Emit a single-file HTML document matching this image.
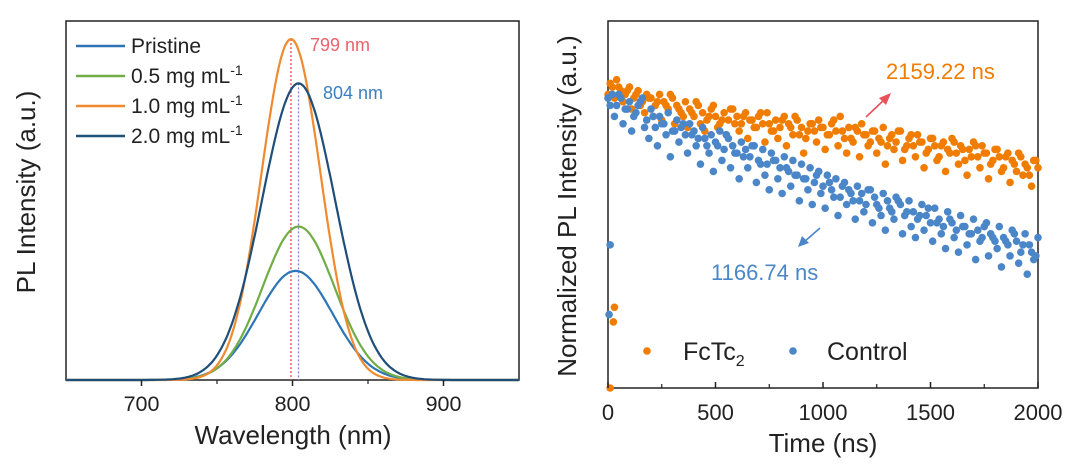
<!DOCTYPE html>
<html><head><meta charset="utf-8"><style>
html,body{margin:0;padding:0;background:#fff;}
svg{display:block;font-family:"Liberation Sans",Arial,sans-serif;}
</style></head><body>
<svg id="fig" width="1080" height="470" viewBox="0 0 1080 470">
<g id="left"></g>
<g id="right"></g>
</svg>
<script>
// ---- Left chart data (Gaussian peak parameters) ----
const specNames = ["Pristine", "0.5 mg mL", "1.0 mg mL", "2.0 mg mL"];
const specCenters = [802, 804, 799, 804];
const specHeights = [0.32, 0.45, 1.0, 0.87];
const specFwhm = [58, 56, 46, 57];
const specColors = ["#2e75b6", "#70ad47", "#f08a30", "#1f4e79"];
const wlTicks = [700, 800, 900];
const wlMinorTicks = [750, 850];
const peakMarks = [799, 804];

// ---- Right chart data ----
const timeStep = 20;
const fcValues = [0.80,0.82,0.84,0.81,0.80,0.82,0.79,0.81,0.78,0.80,
0.79,0.77,0.80,0.78,0.76,0.79,0.77,0.75,0.78,0.76,
0.74,0.77,0.75,0.73,0.76,0.74,0.72,0.75,0.73,0.76,
0.74,0.72,0.75,0.73,0.71,0.74,0.72,0.75,0.70,0.73,
0.71,0.74,0.72,0.69,0.73,0.71,0.68,0.72,0.70,0.73,
0.71,0.69,0.72,0.70,0.74,0.68,0.71,0.67,0.70,0.72,
0.69,0.67,0.70,0.68,0.71,0.66,0.69,0.67,0.70,0.65,
0.68,0.66,0.69,0.67,0.64,0.68,0.66,0.63,0.67,0.65,
0.68,0.64,0.66,0.62,0.65,0.67,0.63,0.66,0.64,0.61,
0.65,0.63,0.60,0.64,0.62,0.59,0.63,0.61,0.58,0.62,0.60];
const fcValuesB = [0.83,0.79,0.82,0.78,0.81,0.76,0.80,0.77,0.75,0.79,
0.74,0.78,0.73,0.77,0.80,0.72,0.76,0.74,0.71,0.75,
0.78,0.72,0.70,0.74,0.77,0.71,0.73,0.69,0.76,0.72,
0.70,0.74,0.68,0.73,0.71,0.75,0.67,0.72,0.70,0.68,
0.73,0.66,0.71,0.74,0.69,0.64,0.70,0.72,0.67,0.71,
0.65,0.69,0.73,0.66,0.70,0.64,0.68,0.71,0.63,0.69,
0.66,0.70,0.64,0.67,0.61,0.68,0.65,0.70,0.62,0.66,
0.69,0.63,0.67,0.60,0.65,0.68,0.62,0.66,0.59,0.64,
0.67,0.61,0.65,0.58,0.63,0.66,0.60,0.64,0.57,0.62,
0.65,0.59,0.63,0.56,0.61,0.64,0.58,0.60,0.55,0.62];
const ctrlValues = [0.79,0.80,0.77,0.79,0.76,0.78,0.74,0.77,0.79,0.73,
0.76,0.71,0.74,0.72,0.75,0.70,0.73,0.71,0.69,0.72,
0.70,0.68,0.71,0.66,0.69,0.67,0.70,0.65,0.68,0.66,
0.64,0.67,0.65,0.63,0.66,0.62,0.65,0.61,0.64,0.62,
0.60,0.63,0.59,0.62,0.58,0.61,0.57,0.60,0.56,0.59,
0.55,0.58,0.54,0.57,0.52,0.56,0.54,0.51,0.55,0.53,
0.50,0.54,0.52,0.49,0.53,0.51,0.48,0.52,0.50,0.47,
0.51,0.48,0.46,0.50,0.47,0.45,0.49,0.46,0.44,0.48,
0.45,0.43,0.47,0.44,0.42,0.46,0.43,0.41,0.45,0.42,
0.40,0.44,0.41,0.39,0.43,0.40,0.37,0.42,0.39,0.35,0.41];
const ctrlValuesB = [0.77,0.74,0.80,0.72,0.76,0.70,0.75,0.78,0.71,0.68,
0.74,0.66,0.72,0.69,0.63,0.70,0.67,0.72,0.64,0.69,
0.66,0.61,0.68,0.64,0.59,0.66,0.62,0.69,0.60,0.64,
0.57,0.63,0.60,0.66,0.56,0.61,0.58,0.54,0.62,0.57,
0.53,0.60,0.55,0.58,0.51,0.57,0.54,0.50,0.58,0.53,
0.49,0.56,0.52,0.47,0.55,0.50,0.53,0.46,0.51,0.48,
0.54,0.45,0.50,0.47,0.43,0.49,0.46,0.51,0.42,0.48,
0.44,0.41,0.47,0.43,0.49,0.40,0.45,0.42,0.38,0.46,
0.41,0.37,0.44,0.39,0.42,0.35,0.40,0.44,0.36,0.41,
0.38,0.33,0.40,0.36,0.42,0.34,0.39,0.31,0.37,0.36];
const fcOutT = [30, 25, 10];
const fcOutV = [0.22, 0.18, 0.0];
const ctrlOutT = [10, 5];
const ctrlOutV = [0.39, 0.20];
const timeTicks = [0, 500, 1000, 1500, 2000];
const timeMinor = [250, 750, 1250, 1750];

const NS = "http://www.w3.org/2000/svg";
function mk(tag, attrs, parent, text) {
  const e = document.createElementNS(NS, tag);
  for (const k in attrs) e.setAttribute(k, attrs[k]);
  if (text !== undefined) e.textContent = text;
  parent.appendChild(e);
  return e;
}

// ---------- LEFT ----------
const L = document.getElementById("left");
const lx0 = 66, lx1 = 519, ly0 = 21, ly1 = 380;
const xL = w => lx0 + (w - 650) / 300 * (lx1 - lx0);
const yL = v => ly1 - v / 1.053 * (ly1 - ly0);

let fr = mk("rect", {x: lx0, y: ly0, width: lx1 - lx0, height: ly1 - ly0, fill: "none", stroke: "#222", "stroke-width": 1.5}, L);



const dotColors = ["#e8404a", "#8080d0"];
const dotTops = [specHeights[2], specHeights[3]];
peakMarks.forEach((p, i) => {
  const d = mk("line", {x1: xL(p), x2: xL(p), y1: yL(dotTops[i]), y2: ly1, stroke: dotColors[i], "stroke-width": 1.3, "stroke-dasharray": "2,2"}, L);
  
  
});

specNames.forEach((n, i) => {
  const sig = specFwhm[i] / 2.3548;
  let pts = [];
  for (let w = 650; w <= 950; w += 1) {
    const v = specHeights[i] * Math.exp(-((w - specCenters[i]) ** 2) / (2 * sig * sig));
    pts.push(xL(w).toFixed(1) + "," + yL(v).toFixed(1));
  }
  const pl = mk("polyline", {points: pts.join(" "), fill: "none", stroke: specColors[i], "stroke-width": 2.2}, L);
  
  
});

wlTicks.forEach(t => {
  const tk = mk("line", {x1: xL(t), x2: xL(t), y1: ly1, y2: ly1 + 6, stroke: "#222", "stroke-width": 1.5}, L);
  
  
  const tl = mk("text", {x: xL(t), y: 411, "text-anchor": "middle", "font-size": 21.5, fill: "#222"}, L, String(t));
  
  
});
wlMinorTicks.forEach(t => {
  const tk = mk("line", {x1: xL(t), x2: xL(t), y1: ly1, y2: ly1 + 4, stroke: "#222", "stroke-width": 1.2}, L);
  
  
});
let t1 = mk("text", {x: 293, y: 444, "text-anchor": "middle", "font-size": 26, fill: "#222"}, L, "Wavelength (nm)");


let t2 = mk("text", {x: 0, y: 0, "text-anchor": "middle", "font-size": 26, fill: "#222", transform: "translate(35,192) rotate(-90)"}, L, "PL Intensity (a.u.)");



specNames.forEach((n, i) => {
  const y = 46 + i * 30;
  const g = mk("g", {}, L);
  
  
  mk("line", {x1: 76, x2: 125, y1: y, y2: y, stroke: specColors[i], "stroke-width": 2.5}, g);
  const tx = mk("text", {x: 131, y: y + 7, "font-size": 21, fill: "#222"}, g, n);
  if (i > 0) { mk("tspan", {dy: -8, "font-size": 14}, tx, "-1"); }
});
let a1 = mk("text", {x: 310, y: 51, "font-size": 18, fill: "#e8636a"}, L, "799 nm");


let a2 = mk("text", {x: 323, y: 99, "font-size": 18, fill: "#3a7fc0"}, L, "804 nm");



// ---------- RIGHT ----------
const R = document.getElementById("right");
const rx0 = 608, rx1 = 1038, ry0 = 21, ry1 = 388;
const xR = t => rx0 + t / 2000 * (rx1 - rx0);
const yR = v => ry1 - v * (ry1 - ry0);
let fr2 = mk("rect", {x: rx0, y: ry0, width: rx1 - rx0, height: ry1 - ry0, fill: "none", stroke: "#222", "stroke-width": 1.5}, R);



function scatter(vals, t0, color, name) {
  const g = mk("g", {}, R);
  
  
  vals.forEach((v, i) => {
    const c = mk("circle", {cx: xR(t0 + i * timeStep), cy: yR(v), r: 3.8, fill: color}, g);
    
    
  });
  return g;
}
function outliers(ts, vs, color, name) {
  ts.forEach((t, i) => {
    const c = mk("circle", {cx: xR(t), cy: yR(vs[i]), r: 3.8, fill: color}, R);
    
    
  });
}
scatter(fcValues, 0, "#f07c00", "fctc2-series");
scatter(fcValuesB, 10, "#f07c00", "fctc2-series-b");
scatter(ctrlValues, 0, "#4a86c8", "control-series");
scatter(ctrlValuesB, 10, "#4a86c8", "control-series-b");
outliers(fcOutT, fcOutV, "#f07c00", "fctc2-outlier");
outliers(ctrlOutT, ctrlOutV, "#4a86c8", "control-outlier");

timeTicks.forEach(t => {
  const tk = mk("line", {x1: xR(t), x2: xR(t), y1: ry1, y2: ry1 - 6, stroke: "#222", "stroke-width": 1.5}, R);
  
  
  const tl = mk("text", {x: xR(t), y: 420, "text-anchor": "middle", "font-size": 22, fill: "#222"}, R, String(t));
  
  
});
timeMinor.forEach(t => {
  const tk = mk("line", {x1: xR(t), x2: xR(t), y1: ry1, y2: ry1 - 4, stroke: "#222", "stroke-width": 1.2}, R);
  
  
});
let t3 = mk("text", {x: 823, y: 452, "text-anchor": "middle", "font-size": 26, fill: "#222"}, R, "Time (ns)");


let t4 = mk("text", {x: 0, y: 0, "text-anchor": "middle", "font-size": 26, fill: "#222", transform: "translate(576,206) rotate(-90)"}, R, "Normalized PL Intensity (a.u.)");



let lg1 = mk("g", {}, R);


mk("circle", {cx: 647, cy: 351, r: 3.8, fill: "#f07c00"}, lg1);
const ft = mk("text", {x: 683, y: 360, "font-size": 25, fill: "#222"}, lg1, "FcTc");
mk("tspan", {dy: 6, "font-size": 16}, ft, "2");
let lg2 = mk("g", {}, R);


mk("circle", {cx: 793, cy: 351, r: 3.8, fill: "#4a86c8"}, lg2);
mk("text", {x: 827, y: 360, "font-size": 25, fill: "#222"}, lg2, "Control");

let an1 = mk("text", {x: 886, y: 79, "font-size": 22, fill: "#f07c00"}, R, "2159.22 ns");


let an2 = mk("text", {x: 711, y: 280, "font-size": 22, fill: "#4a86c8"}, R, "1166.74 ns");


let ar1 = mk("g", {}, R);


mk("line", {x1: 866, y1: 117, x2: 884, y2: 100, stroke: "#e8505a", "stroke-width": 1.6}, ar1);
mk("polygon", {points: "891,93 879,98 886,105", fill: "#e8505a"}, ar1);
let ar2 = mk("g", {}, R);


mk("line", {x1: 820, y1: 228, x2: 804, y2: 242, stroke: "#4a86c8", "stroke-width": 1.6}, ar2);
mk("polygon", {points: "798,247 802,236 809,243", fill: "#4a86c8"}, ar2);
</script>
</body></html>
